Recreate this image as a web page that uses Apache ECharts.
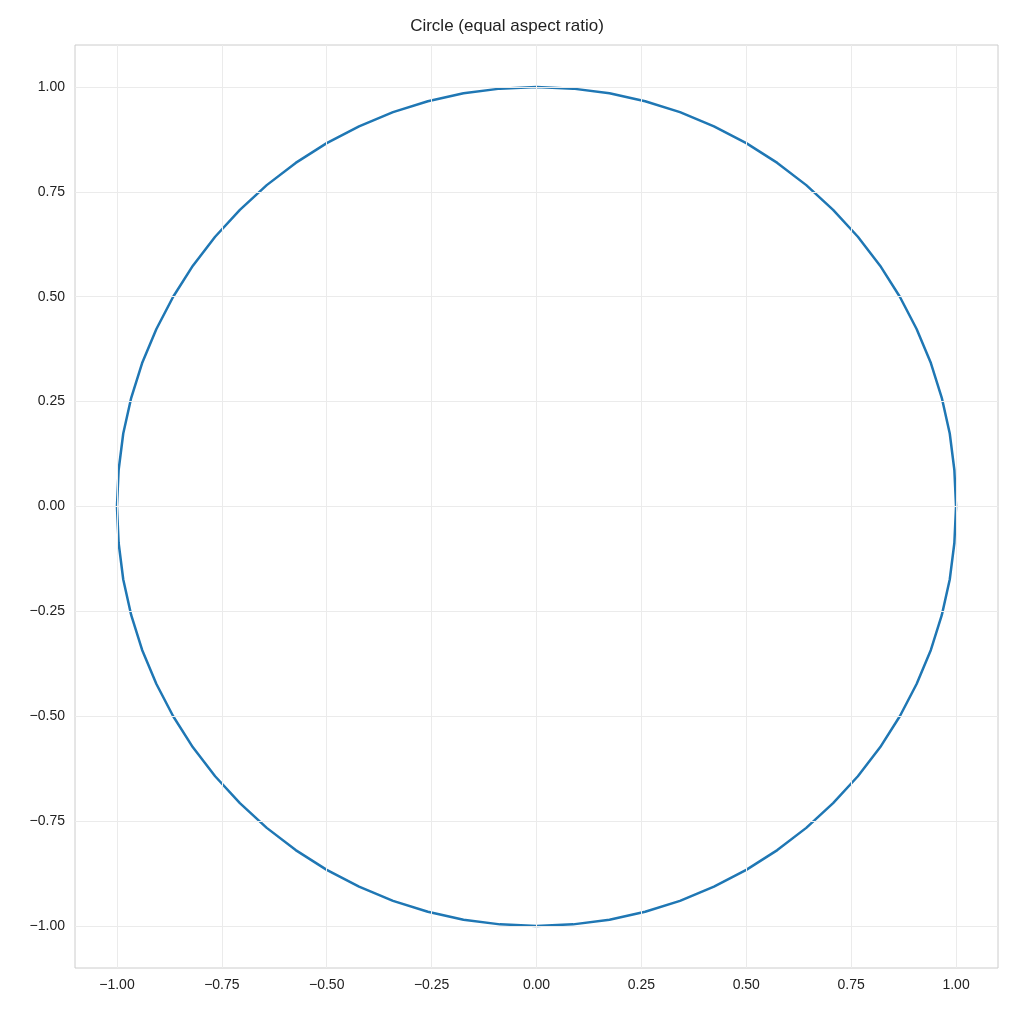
<!DOCTYPE html>
<html>
<head>
<meta charset="utf-8">
<script src="https://cdn.jsdelivr.net/npm/echarts@6/dist/echarts.min.js"></script>
<style>html,body{margin:0;padding:0;background:#fff}#chart{width:1014px;height:1010px}</style>
</head>
<body>
<div id="chart"></div>
<script>
// points read around the circle, every 5 degrees
var circleX = [1.000, 0.996, 0.985, 0.966, 0.940, 0.906, 0.866, 0.819, 0.766, 0.707, 0.643, 0.574, 0.500, 0.423, 0.342, 0.259, 0.174, 0.087, 0.000,
  -0.087, -0.174, -0.259, -0.342, -0.423, -0.500, -0.574, -0.643, -0.707, -0.766, -0.819, -0.866, -0.906, -0.940, -0.966, -0.985, -0.996, -1.000,
  -0.996, -0.985, -0.966, -0.940, -0.906, -0.866, -0.819, -0.766, -0.707, -0.643, -0.574, -0.500, -0.423, -0.342, -0.259, -0.174, -0.087, 0.000,
  0.087, 0.174, 0.259, 0.342, 0.423, 0.500, 0.574, 0.643, 0.707, 0.766, 0.819, 0.866, 0.906, 0.940, 0.966, 0.985, 0.996, 1.000];
var circleY = [0.000, 0.087, 0.174, 0.259, 0.342, 0.423, 0.500, 0.574, 0.643, 0.707, 0.766, 0.819, 0.866, 0.906, 0.940, 0.966, 0.985, 0.996, 1.000,
  0.996, 0.985, 0.966, 0.940, 0.906, 0.866, 0.819, 0.766, 0.707, 0.643, 0.574, 0.500, 0.423, 0.342, 0.259, 0.174, 0.087, 0.000,
  -0.087, -0.174, -0.259, -0.342, -0.423, -0.500, -0.574, -0.643, -0.707, -0.766, -0.819, -0.866, -0.906, -0.940, -0.966, -0.985, -0.996, -1.000,
  -0.996, -0.985, -0.966, -0.940, -0.906, -0.866, -0.819, -0.766, -0.707, -0.643, -0.574, -0.500, -0.423, -0.342, -0.259, -0.174, -0.087, 0.000];
var ticks = [-1.00, -0.75, -0.50, -0.25, 0.00, 0.25, 0.50, 0.75, 1.00];

var chart = echarts.init(document.getElementById('chart'));
var points = circleX.map(function (x, i) { return [x, circleY[i]]; });
var gridLines = [];
ticks.forEach(function (t) {
    gridLines.push({xAxis: t});
    gridLines.push({yAxis: t});
});

function axisOpt() {
    return {
        type: 'value',
        min: -1.1,
        max: 1.1,
        axisLine: {show: false},
        axisTick: {show: false},
        splitLine: {show: false},
        axisLabel: {
            customValues: ticks,
            color: '#222',
            fontSize: 14,
            fontFamily: 'Liberation Sans',
            margin: 10,
            formatter: function (v) { return v.toFixed(2).replace('-', '\u2212'); }
        }
    };
}

chart.setOption({
    animation: false,
    title: {
        text: 'Circle (equal aspect ratio)',
        left: 'center',
        top: 13,
        textStyle: {fontSize: 17, fontWeight: 'normal', color: '#222', fontFamily: 'Liberation Sans'}
    },
    grid: {
        left: 75, right: 16, top: 45, bottom: 42,
        show: true, borderColor: '#cccccc', borderWidth: 1
    },
    xAxis: axisOpt(),
    yAxis: axisOpt(),
    series: [{
        type: 'line',
        data: [],
        z: 1,
        markLine: {
            silent: true,
            symbol: 'none',
            label: {show: false},
            lineStyle: {color: '#ebebeb', width: 1, type: 'solid'},
            data: gridLines
        }
    }, {
        type: 'line',
        data: points,
        showSymbol: false,
        lineStyle: {color: '#1f77b4', width: 2.5},
        z: 3
    }]
});
</script>
</body>
</html>
